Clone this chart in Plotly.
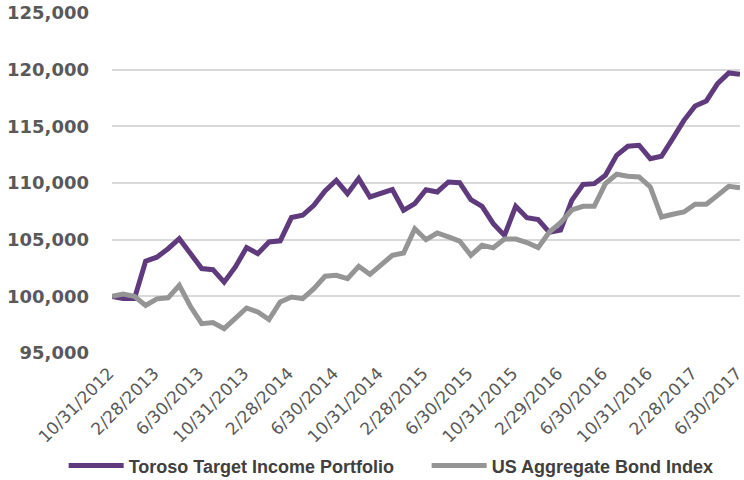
import plotly.graph_objects as go

dates = ["10/31/2012", "11/30/2012", "12/31/2012",
         "1/31/2013", "2/28/2013", "3/31/2013", "4/30/2013", "5/31/2013", "6/30/2013",
         "7/31/2013", "8/31/2013", "9/30/2013", "10/31/2013", "11/30/2013", "12/31/2013",
         "1/31/2014", "2/28/2014", "3/31/2014", "4/30/2014", "5/31/2014", "6/30/2014",
         "7/31/2014", "8/31/2014", "9/30/2014", "10/31/2014", "11/30/2014", "12/31/2014",
         "1/31/2015", "2/28/2015", "3/31/2015", "4/30/2015", "5/31/2015", "6/30/2015",
         "7/31/2015", "8/31/2015", "9/30/2015", "10/31/2015", "11/30/2015", "12/31/2015",
         "1/31/2016", "2/29/2016", "3/31/2016", "4/30/2016", "5/31/2016", "6/30/2016",
         "7/31/2016", "8/31/2016", "9/30/2016", "10/31/2016", "11/30/2016", "12/31/2016",
         "1/31/2017", "2/28/2017", "3/31/2017", "4/30/2017", "5/31/2017", "6/30/2017"]

portfolio = [100000, 99800, 99800, 103100, 103450, 104200, 105090, 103840, 102450,
             102350, 101250, 102590, 104300, 103770, 104800, 104900, 106950, 107150,
             108030, 109300, 110240, 109060, 110390, 108770, 109060, 109420, 107590,
             108180, 109400, 109210, 110090, 110030, 108530, 107940, 106410, 105380,
             107940, 106940, 106770, 105650, 105850, 108470, 109870, 109940, 110680,
             112440, 113240, 113330, 112150, 112360, 113920, 115530, 116800, 117240,
             118770, 119710, 119590]

bond_index = [100000, 100200, 100000, 99200, 99780, 99870, 100970, 99100, 97590,
              97680, 97150, 98120, 98970, 98620, 97950, 99500, 99940, 99790,
              100680, 101770, 101850, 101560, 102650, 101940, 102820, 103620, 103820,
              105970, 105000, 105590, 105240, 104880, 103620, 104500, 104280, 105050,
              105050, 104750, 104300, 105680, 106500, 107620, 107940, 107940, 109940,
              110770, 110590, 110530, 109650, 107000, 107240, 107440, 108120, 108120,
              108910, 109710, 109590]

tick_labels = dates[::4]
y_ticks = [95000, 100000, 105000, 110000, 115000, 120000, 125000]

series_names = ["Toroso Target Income Portfolio", "US Aggregate Bond Index"]
colors = ["#5F3B7E", "#959595"]

fig = go.Figure()
fig.add_trace(go.Scatter(x=dates, y=portfolio, mode="lines", name=series_names[0],
                         line=dict(color=colors[0], width=5)))
fig.add_trace(go.Scatter(x=dates, y=bond_index, mode="lines", name=series_names[1],
                         line=dict(color=colors[1], width=5)))

fig.update_layout(
    width=744, height=480,
    margin=dict(l=112, r=4, t=13, b=127, autoexpand=False),
    paper_bgcolor="white", plot_bgcolor="white",
    font=dict(family="DejaVu Sans", color="#595959"),
    legend=dict(orientation="h", x=-0.077, xanchor="left", y=-0.332, yanchor="middle",
                font=dict(family="Liberation Sans", size=18, color="#404040", weight="bold"),
                itemwidth=55, entrywidth=293, traceorder="normal"),
    showlegend=True,
)
fig.update_xaxes(type="category", tickmode="array", tickvals=tick_labels, ticktext=tick_labels,
                 tickangle=-45, showgrid=False, showline=False, zeroline=False, ticks="",
                 automargin=False, ticklabelstandoff=6, ticklabelshift=-3,
                 tickfont=dict(family="DejaVu Sans", size=17, color="#595959"))
fig.update_yaxes(range=[95000, 125000], tickmode="array", tickvals=y_ticks, tickformat=",",
                 showgrid=True, gridcolor="#D9D9D9", gridwidth=1.5, zeroline=False,
                 showline=False, ticks="", ticklabelstandoff=22, automargin=False,
                 tickfont=dict(family="DejaVu Sans", size=18, color="#595959", weight="bold"))

fig.write_html("out.html", config={"displayModeBar": False},
               post_script="document.body.style.margin='0';")
